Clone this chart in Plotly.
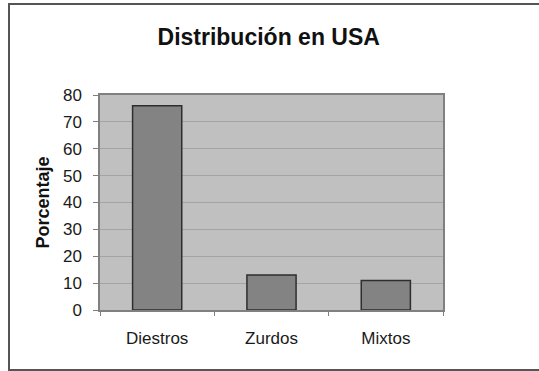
import plotly.graph_objects as go

categories = ["Diestros", "Zurdos", "Mixtos"]
values = [76, 13, 11]
y_ticks = [0, 10, 20, 30, 40, 50, 60, 70, 80]

W, H = 539, 371
L, R, T, B = 100, 96, 95, 61
pw, ph = W - L - R, H - T - B

def px_x(p):
    return (p - L) / pw

def px_y(p):
    return (H - B - p) / ph

fig = go.Figure(go.Bar(
    x=categories, y=values,
    marker=dict(color="#838383", line=dict(color="#2e2e2e", width=1.5)),
    width=0.43,
))

fig.update_layout(
    width=W, height=H,
    margin=dict(l=L, r=R, t=T, b=B),
    paper_bgcolor="white",
    plot_bgcolor="#c0c0c0",
    font=dict(family="Liberation Sans, Arial", size=17, color="#1a1a1a"),
    showlegend=False,
    title=dict(text="<b>Distribución en USA</b>", x=px_x(271), xanchor="center",
               y=1 - 37 / H, yanchor="middle", yref="container",
               font=dict(size=23, color="#111")),
    xaxis=dict(
        showgrid=False, ticks="outside", tickson="boundaries", ticklen=4,
        tickcolor="#808080", showline=True, linecolor="#808080", linewidth=1.5,
        mirror=True, ticklabelstandoff=12,
    ),
    yaxis=dict(
        range=[0, 80], tickvals=y_ticks, showgrid=True, gridcolor="#a4a4a4",
        gridwidth=1, ticks="outside", ticklen=5, tickcolor="#808080",
        showline=True, linecolor="#808080", linewidth=1.5, mirror=True,
        zeroline=False, ticklabelstandoff=8,
        title=dict(text="<b>Porcentaje</b>", font=dict(size=18, color="#111"), standoff=9),
    ),
    shapes=[dict(type="rect", xref="paper", yref="paper",
                 x0=px_x(9), x1=px_x(560), y0=px_y(370), y1=px_y(4),
                 line=dict(color="#555", width=2), fillcolor="rgba(0,0,0,0)",
                 layer="below")],
)

fig.write_html("out.html")
